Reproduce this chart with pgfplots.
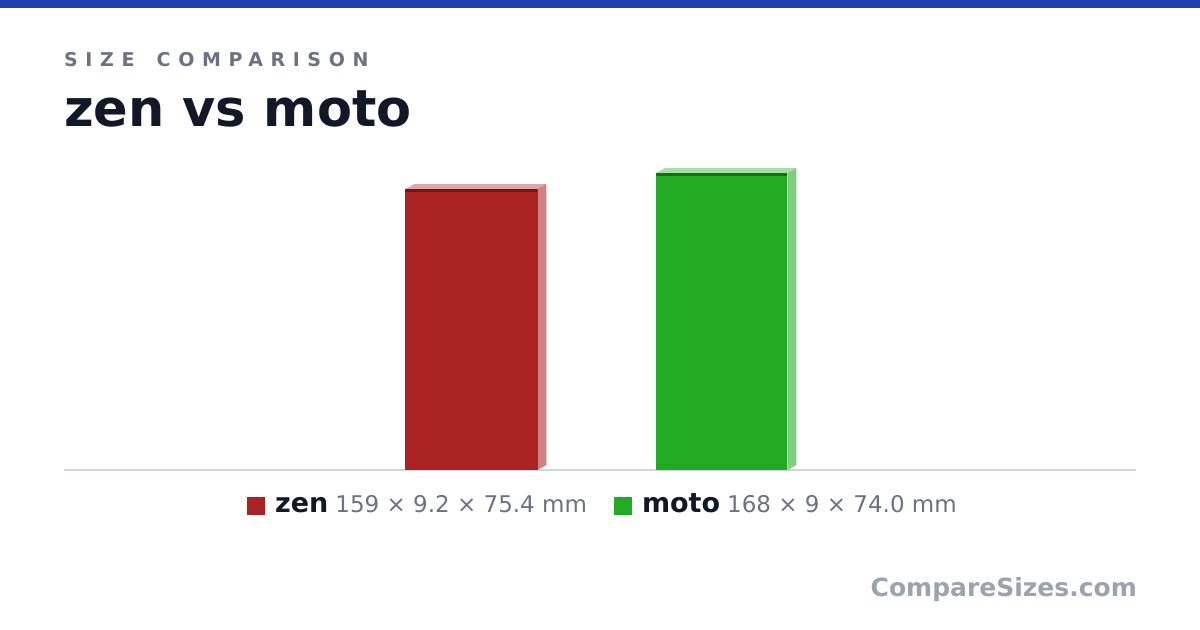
\documentclass[border=0pt]{standalone}
\usepackage{pgfplots}
\pgfplotsset{compat=1.18}
\usepackage{fontspec}
\setmainfont{DejaVu Sans}

\definecolor{topblue}{HTML}{1E40AF}
\definecolor{subgray}{HTML}{6B7280}
\definecolor{titleink}{HTML}{111827}
\definecolor{markgray}{HTML}{9CA3AF}
\definecolor{baseline}{HTML}{D1D5DB}
\definecolor{zenfront}{HTML}{AA2222}
\definecolor{zentop}{HTML}{DDA6A6}
\definecolor{zenside}{HTML}{CF8080}
\definecolor{zendark}{HTML}{6E1616}
\definecolor{motofront}{HTML}{22AA22}
\definecolor{mototop}{HTML}{A6DDA6}
\definecolor{motoside}{HTML}{80CF80}
\definecolor{motodark}{HTML}{166E16}

\begin{document}
\begin{tikzpicture}[x=1bp,y=1bp]
  % page and header band
  \fill[white] (0,0) rectangle (1200,630);
  \fill[topblue] (0,622) rectangle (1200,630);

  \node[anchor=base west, inner sep=0pt, text=subgray]
    at (64,563) {\fontsize{19bp}{24bp}\selectfont\bfseries
      \addfontfeatures{LetterSpace=40}SIZE\hspace{8bp} COMPARISON};
  \node[anchor=base west, inner sep=0pt, text=titleink]
    at (64,503) {\fontsize{51bp}{60bp}\selectfont\bfseries zen vs moto};

  \begin{axis}[
      at={(64bp,160bp)}, anchor=south west,
      width=1072bp, height=310bp, scale only axis,
      xmin=-1.63, xmax=2.658,
      ymin=0, ymax=175.44,
      axis y line=none,
      axis x line*=bottom,
      x axis line style={draw=baseline, line width=1.5bp, -},
      xtick=\empty, ytick=\empty,
      clip=false,
    ]
    % zen: 159 mm
    \addplot[fill=zentop, draw=none] coordinates
      {(-0.264,159) (-0.228,161.83) (0.300,161.83) (0.264,159)} -- cycle;
    \addplot[fill=zenside, draw=none] coordinates
      {(0.264,0) (0.300,2.83) (0.300,161.83) (0.264,159)} -- cycle;
    \addplot[ybar, bar width=132bp, bar shift=0pt, fill=zenfront, draw=none]
      coordinates {(0,159)};
    \addplot[draw=zendark, line width=3bp] coordinates
      {(-0.264,158.15) (0.264,158.15)};
    % moto: 168 mm
    \addplot[fill=mototop, draw=none] coordinates
      {(0.738,168) (0.774,170.83) (1.300,170.83) (1.264,168)} -- cycle;
    \addplot[fill=motoside, draw=none] coordinates
      {(1.264,0) (1.300,2.83) (1.300,170.83) (1.264,168)} -- cycle;
    \addplot[ybar, bar width=131bp, bar shift=0pt, fill=motofront, draw=none]
      coordinates {(1.002,168)};
    \addplot[draw=motodark, line width=3bp] coordinates
      {(0.738,167.15) (1.264,167.15)};
  \end{axis}

  % legend
  \node[anchor=base, inner sep=0pt] at (602,117) {%
    {\color{zenfront}\raisebox{-2bp}{\rule{18bp}{18bp}}}\hspace{10bp}%
    {\fontsize{27bp}{30bp}\selectfont\bfseries\color{titleink}zen}\hspace{7bp}%
    {\fontsize{23bp}{26bp}\selectfont\color{subgray}159 × 9.2 × 75.4 mm}\hspace{27bp}%
    {\color{motofront}\raisebox{-2bp}{\rule{18bp}{18bp}}}\hspace{10bp}%
    {\fontsize{27bp}{30bp}\selectfont\bfseries\color{titleink}moto}\hspace{7bp}%
    {\fontsize{23bp}{26bp}\selectfont\color{subgray}168 × 9 × 74.0 mm}};

  \node[anchor=base east, inner sep=0pt, text=markgray]
    at (1137,33) {\fontsize{25bp}{30bp}\selectfont\bfseries CompareSizes.com};
\end{tikzpicture}
\end{document}
